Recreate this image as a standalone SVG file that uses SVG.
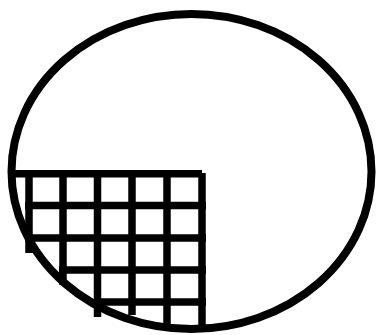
<svg xmlns="http://www.w3.org/2000/svg" width="377" height="335" viewBox="0 0 377 335">
  <style>
    .outline { fill: none; stroke: #000; stroke-width: 8; }
    .grid { fill: none; stroke: #000; stroke-width: 7.5; stroke-linecap: butt; }
  </style>
  <rect width="377" height="335" fill="#fff"/>
  <ellipse id="outline" class="outline" cx="191.5" cy="171.5" rx="180" ry="157.5"/>
  <g id="grid" class="grid">
    <line x1="29" y1="170" x2="29" y2="253"/>
    <line x1="63" y1="170" x2="63" y2="285"/>
    <line x1="97.5" y1="170" x2="97.5" y2="317"/>
    <line x1="132" y1="170" x2="132" y2="315"/>
    <line x1="167" y1="170" x2="167" y2="329"/>
    <line x1="202" y1="173" x2="202" y2="331"/>
    <line x1="15" y1="173.75" x2="202" y2="173.75"/>
    <line x1="25" y1="205.5" x2="206" y2="205.5"/>
    <line x1="25" y1="238" x2="206" y2="238"/>
    <line x1="59" y1="270" x2="206" y2="270"/>
    <line x1="94" y1="302" x2="206" y2="302"/>
  </g>
</svg>
